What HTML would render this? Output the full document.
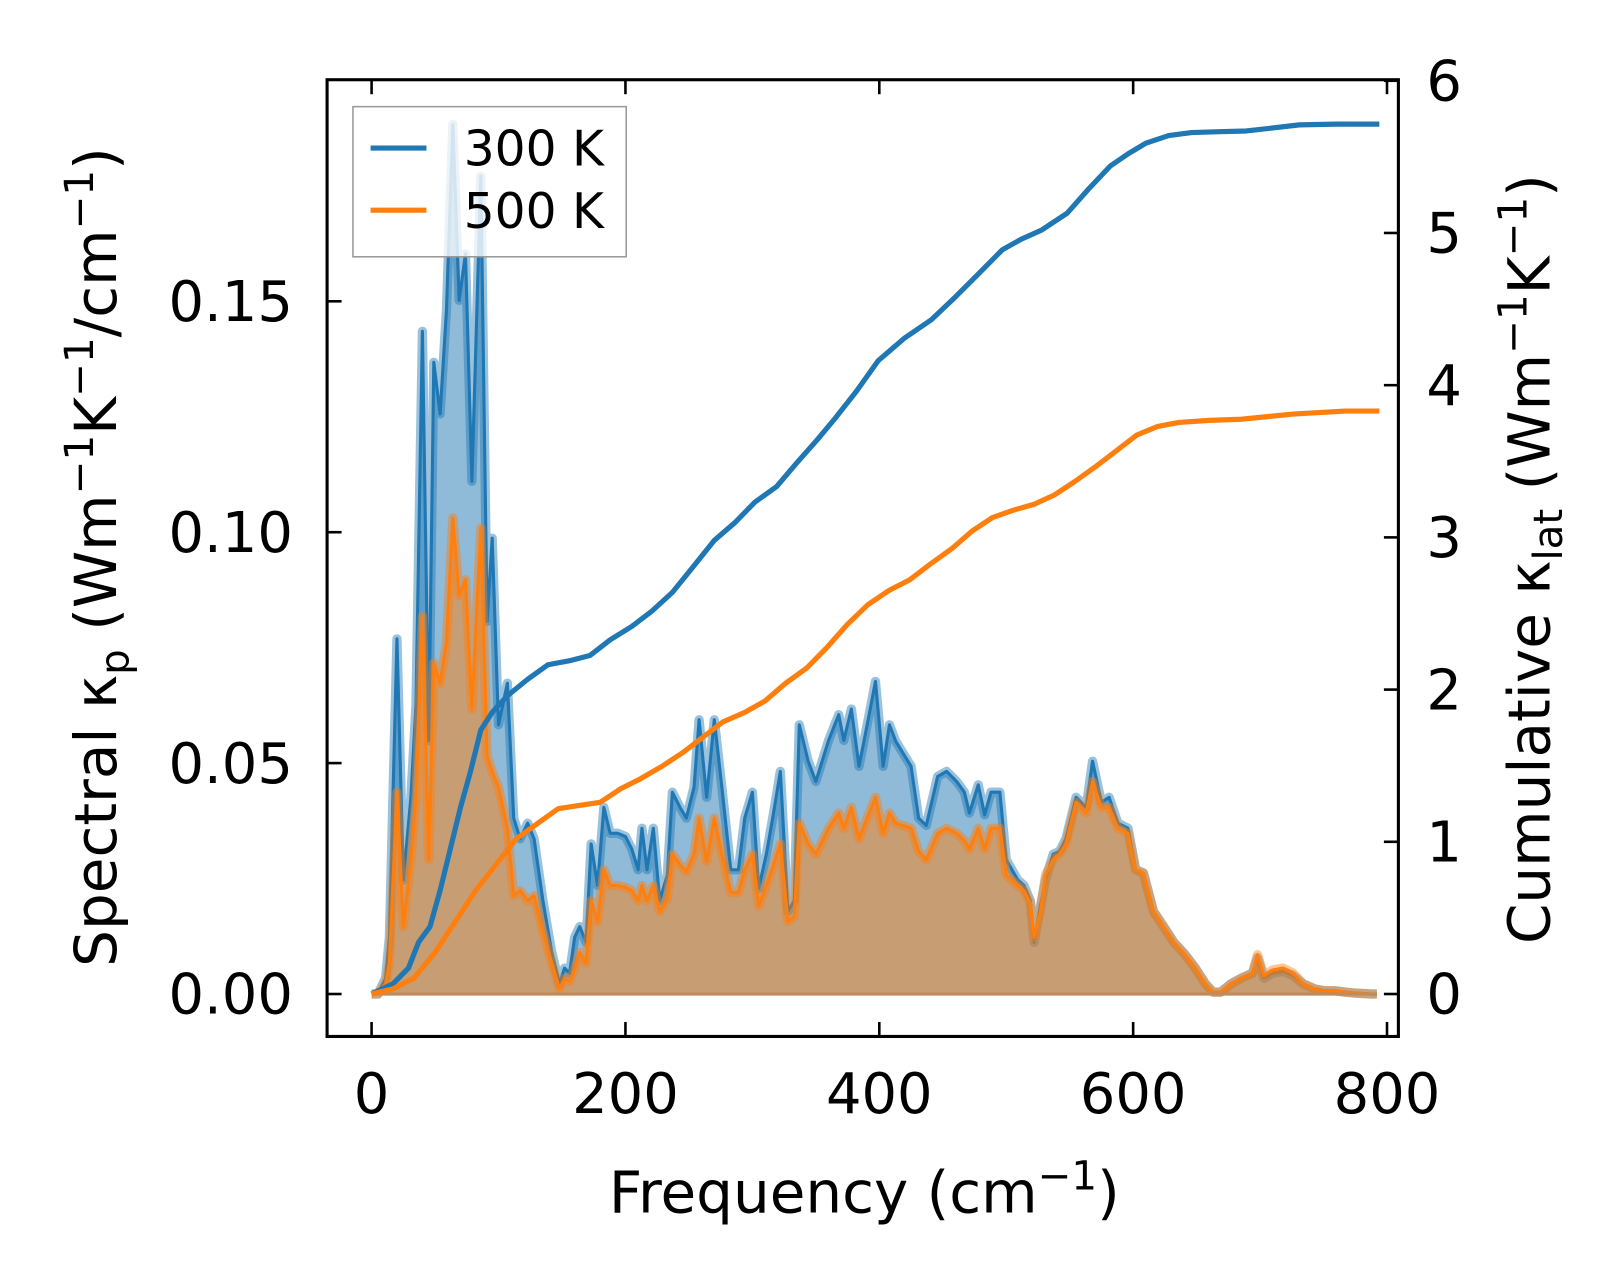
<!DOCTYPE html>
<html><head><meta charset="utf-8"><style>
html,body{margin:0;padding:0;background:#fff;}
svg{display:block;}
text{font-family:"DejaVu Sans","Liberation Sans",sans-serif;fill:#000;}
</style></head><body>
<svg id="chart" width="1623" height="1286" viewBox="0 0 1568 1242" preserveAspectRatio="none" xmlns="http://www.w3.org/2000/svg" style="position:absolute;left:0;top:0">
<g id="plot"></g>
<g id="axes"></g>
</svg>
<script>
const freqSpec = [0,5,11,14,20,25,31,35,40,45,49,54,59,64,69,74,79,86,91,95,100,107,112,117,123,128,135,142,148,152,156,160,164,169,173,178,183,188,194,200,205,210,213,217,222,227,233,237,243,248,254,258,264,270,276,283,289,294,300,305,311,316,322,328,333,337,344,350,360,368,372,378,384,392,397,403,408,413,425,431,437,446,453,461,467,471,478,483,488,495,500,509,514,519,522,527,531,537,542,547,555,563,568,575,581,588,596,602,608,616,624,632,641,649,657,663,669,677,685,694,698,703,710,718,726,734,743,751,759,767,775,787,792];
const spec300 = [0,0,.0034,.0123,.0769,.0247,.0426,.0628,.1435,.0549,.1368,.1256,.148,.1883,.1502,.1603,.111,.1771,.0807,.0987,.0583,.0673,.0381,.0336,.037,.0336,.0202,.009,.0022,.0056,.0045,.0123,.0146,.0112,.0325,.0235,.0404,.0348,.0348,.0341,.0314,.0269,.0359,.0269,.0359,.0202,.0258,.0437,.0404,.0381,.0448,.0594,.0426,.0594,.0448,.0269,.0269,.0381,.0437,.0229,.0303,.0381,.0482,.0179,.0202,.0583,.0504,.046,.0549,.0605,.0549,.0617,.0493,.0605,.0677,.0493,.0583,.0547,.0493,.0381,.0365,.0471,.0482,.046,.0437,.0392,.0453,.0388,.0437,.0437,.0291,.0247,.0235,.0202,.0112,.0191,.0247,.0303,.0309,.0336,.0426,.0404,.0504,.0415,.0426,.037,.0359,.0269,.0262,.0179,.0146,.0112,.0085,.0056,.0022,.0004,.0004,.0022,.0034,.0045,.0078,.0034,.0045,.0049,.004,.0022,.0011,.0007,.0007,.0004,.0002,0,0];
const spec500 = [0,0,.0022,.0067,.0437,.0146,.0291,.0426,.0818,.0291,.0717,.0673,.0762,.1031,.0863,.0897,.0617,.1009,.0516,.0482,.0448,.0359,.0213,.0224,.0202,.0213,.0135,.0067,.0011,.0034,.0027,.0056,.009,.0067,.0202,.0157,.0269,.0235,.0235,.0231,.0224,.0202,.0235,.0202,.0235,.0179,.0206,.0303,.028,.0265,.0303,.0381,.0287,.0381,.0303,.022,.022,.0269,.0303,.0191,.0235,.0274,.0325,.0157,.0168,.037,.0325,.0303,.0359,.0392,.0359,.0404,.0336,.0392,.0426,.0348,.0392,.037,.0359,.0309,.0291,.0348,.0359,.0348,.0332,.0314,.0359,.0314,.0359,.0359,.0258,.0235,.0224,.0197,.0123,.0179,.0258,.0291,.0303,.0325,.0415,.0392,.046,.0404,.0404,.0359,.0348,.0269,.0262,.0179,.0146,.0112,.0085,.0056,.0022,.0004,.0004,.0022,.0034,.0045,.0085,.004,.0052,.0056,.0045,.0022,.0011,.0007,.0007,.0004,.0002,0,0];
const freqCum300 = [0,17,29,37,46,54,62,70,78,86,95,107,123,139,156,172,188,205,221,237,253,270,286,302,319,335,351,365,382,399,420,441,460,478,497,512,528,548,565,582,596,610,628,646,668,689,710,731,760,794];
const cum300 = [0,.068,.17,.34,.442,.68,.952,1.224,1.463,1.735,1.85,1.959,2.068,2.163,2.19,2.224,2.327,2.415,2.517,2.639,2.803,2.98,3.095,3.231,3.333,3.49,3.64,3.78,3.96,4.16,4.31,4.43,4.58,4.73,4.89,4.96,5.02,5.13,5.29,5.44,5.52,5.59,5.64,5.66,5.665,5.67,5.69,5.71,5.715,5.715];
const freqCum500 = [0,17,33,50,66,82,98,114,131,147,163,180,196,212,229,245,261,277,294,310,326,343,359,375,391,408,424,440,457,473,489,505,522,538,554,571,587,603,619,636,660,685,726,767,794];
const cum500 = [0,.034,.102,.272,.476,.68,.85,1.02,1.122,1.218,1.238,1.259,1.347,1.415,1.497,1.585,1.687,1.789,1.85,1.925,2.041,2.143,2.279,2.429,2.558,2.653,2.721,2.823,2.925,3.041,3.129,3.177,3.218,3.279,3.367,3.469,3.571,3.673,3.728,3.755,3.769,3.776,3.81,3.83,3.83];
const xTicks = [0,200,400,600,800];
const yLeftTicks = [0,0.05,0.10,0.15];
const yLeftLabels = ["0.00","0.05","0.10","0.15"];
const yRightTicks = [0,1,2,3,4,5,6];

const NS="http://www.w3.org/2000/svg";
const L=316,R=1351,T=77,B=1001;
const X=f=>359+f*(1340-359)/800;
const YL=v=>960-v*4460;
const YR=v=>960-v*147;
function mk(tag,attrs,parent){const e=document.createElementNS(NS,tag);for(const k in attrs)e.setAttribute(k,attrs[k]);parent.appendChild(e);return e;}
const plot=document.getElementById('plot'), axes=document.getElementById('axes');
function pts(xs,ys,yf){return xs.map((f,i)=>X(f).toFixed(1)+','+yf(ys[i]).toFixed(1)).join(' ');}
function area(xs,ys,color,name){
  const d='M'+X(xs[0])+','+YL(0)+' L'+pts(xs,ys,YL)+' L'+X(xs[xs.length-1])+','+YL(0)+' Z';
  const a=mk('path',{d:d,fill:color,'fill-opacity':0.5,stroke:'none'},plot);
  
  
  const h=mk('polyline',{points:pts(xs,ys,YL),fill:'none',stroke:color,'stroke-opacity':0.45,'stroke-width':9,'stroke-linejoin':'round'},plot);
  
  
  const l=mk('polyline',{points:pts(xs,ys,YL),fill:'none',stroke:color,'stroke-width':3,'stroke-linejoin':'round'},plot);
  
  
}
area(freqSpec,spec300,'#1f77b4','spectral-300k');
area(freqSpec,spec500,'#ff7f0e','spectral-500k');
const base=mk('line',{x1:X(freqSpec[0]),x2:X(freqSpec[freqSpec.length-1]),y1:YL(0),y2:YL(0),stroke:'#c08a5a','stroke-width':3},plot);


const c3=mk('polyline',{points:pts(freqCum300,cum300,YR),fill:'none',stroke:'#1f77b4','stroke-width':5,'stroke-linejoin':'round'},plot);


const c5=mk('polyline',{points:pts(freqCum500,cum500,YR),fill:'none',stroke:'#ff7f0e','stroke-width':5,'stroke-linejoin':'round'},plot);



xTicks.forEach(v=>{
  const x=X(v);
  const t1=mk('line',{x1:x,x2:x,y1:B,y2:B-14,stroke:'#000','stroke-width':2.5},axes);
  
  
  const t2=mk('line',{x1:x,x2:x,y1:T,y2:T+14,stroke:'#000','stroke-width':2.5},axes);
  
  
  const tx=mk('text',{x:x,y:1075,'font-size':54,'text-anchor':'middle'},axes);
  tx.textContent=String(v);
  
  
});
yLeftTicks.forEach((v,i)=>{
  const y=YL(v);
  const t=mk('line',{x1:L,x2:L+14,y1:y,y2:y,stroke:'#000','stroke-width':2.5},axes);
  
  
  const tx=mk('text',{x:283,y:y+19,'font-size':54,'text-anchor':'end'},axes);
  tx.textContent=yLeftLabels[i];
  
  
});
yRightTicks.forEach(v=>{
  const y=YR(v);
  const t=mk('line',{x1:R,x2:R-14,y1:y,y2:y,stroke:'#000','stroke-width':2.5},axes);
  
  
  const tx=mk('text',{x:1378,y:y+19,'font-size':54,'text-anchor':'start'},axes);
  tx.textContent=String(v);
  
  
});
const frame=mk('rect',{x:L,y:T,width:R-L,height:B-T,fill:'none',stroke:'#000','stroke-width':3},axes);


</script>
<svg style="position:absolute;left:0;top:0" width="1623" height="1286" viewBox="0 0 1568 1242" preserveAspectRatio="none" xmlns="http://www.w3.org/2000/svg">
<g>
<rect x="341" y="103" width="264" height="145" fill="#fff" fill-opacity="0.8" stroke="#999" stroke-width="1.5"/>
<line x1="358" y1="143" x2="412" y2="143" stroke="#1f77b4" stroke-width="5"/>
<text x="448" y="160" font-size="47">300 K</text>
<line x1="358" y1="203" x2="412" y2="203" stroke="#ff7f0e" stroke-width="5"/>
<text x="448" y="220" font-size="47">500 K</text>
</g>
<text x="835" y="1171" font-size="56" text-anchor="middle">Frequency (cm<tspan dy="-22" font-size="39">−1</tspan><tspan dy="22">)</tspan></text>
<text transform="translate(112,538) rotate(-90)" font-size="56" text-anchor="middle">Spectral κ<tspan dy="12" font-size="39">p</tspan><tspan dy="-12"> (Wm</tspan><tspan dy="-22" font-size="39">−1</tspan><tspan dy="22">K</tspan><tspan dy="-22" font-size="39">−1</tspan><tspan dy="22">/cm</tspan><tspan dy="-22" font-size="39">−1</tspan><tspan dy="22">)</tspan></text>
<text transform="translate(1497,540) rotate(-90)" font-size="56" text-anchor="middle">Cumulative κ<tspan dy="12" font-size="39">lat</tspan><tspan dy="-12"> (Wm</tspan><tspan dy="-22" font-size="39">−1</tspan><tspan dy="22">K</tspan><tspan dy="-22" font-size="39">−1</tspan><tspan dy="22">)</tspan></text>
</svg>
</body></html>
